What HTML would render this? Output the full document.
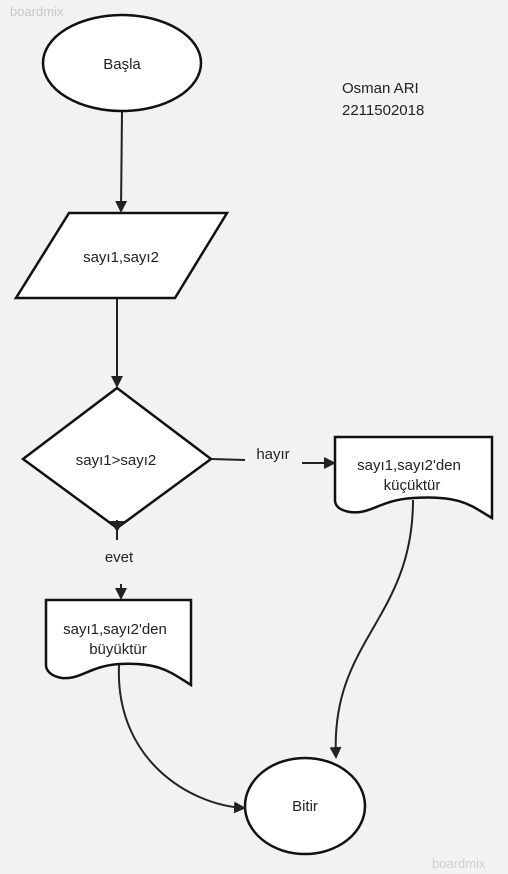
<!DOCTYPE html>
<html><head><meta charset="utf-8"><style>
body{margin:0;background:#f2f2f2;}
svg{display:block}
text{font-family:"Liberation Sans",sans-serif;fill:#222;font-size:15px}
</style></head><body>
<svg width="508" height="874" viewBox="0 0 508 874">
<defs><marker id="a" markerWidth="12" markerHeight="12" refX="10" refY="6" orient="auto" markerUnits="userSpaceOnUse"><path d="M0,0 L12,6 L0,12Z" fill="#222"/></marker></defs>
<text x="10" y="16" style="fill:#c8c8c8;font-size:13px">boardmix</text>
<text x="432" y="868" style="fill:#d0d0d0;font-size:13px">boardmix</text>
<g stroke="#111" stroke-width="2.5" fill="#fff">
<ellipse cx="122" cy="63" rx="79" ry="48"/>
<polygon points="69,213 227,213 175,298 16,298"/>
<polygon points="117,388 211,459 117,528 23,459"/>
<path d="M335,437 H492 V518 C470,505 460,495 413,498 C380,500 370,515 350,512 C338,510 335,505 335,500 Z"/>
<path d="M46,600 H191 V685 C170,672 160,662 119,664 C90,666 80,680 62,678 C50,676 46,670 46,665 Z"/>
<ellipse cx="305" cy="806" rx="60" ry="48"/>
</g>
<g stroke="#222" stroke-width="2" fill="none">
<path d="M122,111 L121,211" marker-end="url(#a)"/>
<path d="M117,298 L117,386" marker-end="url(#a)"/>
<path d="M117,520 L117,540"/>
<path d="M121,584 L121,598" marker-end="url(#a)"/>
<path d="M211,459 L245,460"/>
<path d="M302,463 L334,463" marker-end="url(#a)"/>
<path d="M413,500 C413,620 330,640 336,757" marker-end="url(#a)"/>
<path d="M119,665 C115,760 190,805 244,808" marker-end="url(#a)"/>
</g>
<path d="M110,521 L124,521 L117,532Z" fill="#222"/>
<text x="122" y="69" text-anchor="middle">Başla</text>
<text x="342" y="93">Osman ARI</text>
<text x="342" y="115">2211502018</text>
<text x="121" y="262" text-anchor="middle">sayı1,sayı2</text>
<text x="116" y="465" text-anchor="middle">sayı1&gt;sayı2</text>
<text x="273" y="459" text-anchor="middle">hayır</text>
<text x="119" y="562" text-anchor="middle">evet</text>
<text x="409" y="470" text-anchor="middle">sayı1,sayı2'den</text>
<text x="412" y="490" text-anchor="middle">küçüktür</text>
<text x="115" y="634" text-anchor="middle">sayı1,sayı2'den</text>
<text x="118" y="654" text-anchor="middle">büyüktür</text>
<text x="305" y="811" text-anchor="middle">Bitir</text>
</svg>
</body></html>
